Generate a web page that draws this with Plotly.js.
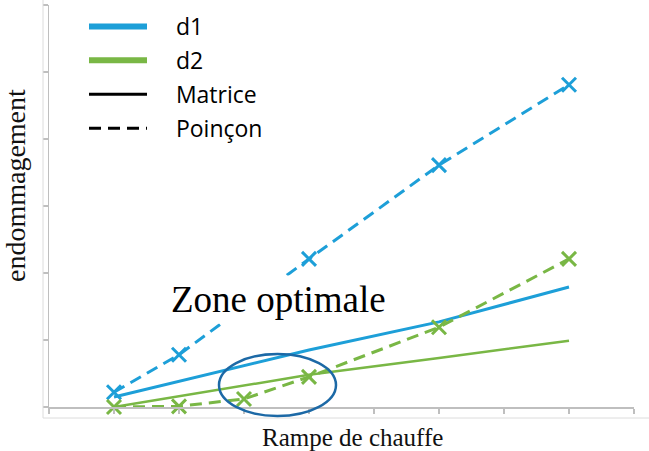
<!DOCTYPE html>
<html>
<head>
<meta charset="utf-8">
<script src="https://cdn.plot.ly/plotly-3.0.1.min.js"></script>
<style>
  html, body { margin: 0; padding: 0; background: #ffffff; }
  #chart { width: 649px; height: 451px; }
</style>
</head>
<body>
<div id="chart"></div>
<script>
// ---- data ----
const xMatrice = [1, 2, 3, 4, 6, 8];
const d1Matrice = [0.15, 0.38, 0.62, 0.85, 1.27, 1.79];
const d2Matrice = [0.0, 0.16, 0.32, 0.48, 0.73, 0.99];

const xD1Poincon = [1, 2, 4, 6, 8];
const d1Poincon = [0.22, 0.78, 2.21, 3.61, 4.81];

const xD2Poincon = [1, 2, 3, 4, 6, 8];
const d2Poincon = [0.0, 0.01, 0.12, 0.45, 1.19, 2.21];

const legendNames = ['d1', 'd2', 'Matrice', 'Poinçon'];
const seriesNames = ['d1 Matrice', 'd2 Matrice', 'd1 Poinçon', 'd2 Poinçon'];
const xTitle = 'Rampe de chauffe';
const yTitle = 'endommagement';
const zoneLabel = 'Zone optimale';

// ---- styles ----
const BLUE = '#1d9fd8';
const GREEN = '#79b745';
const ELLIPSE = '#1c69a6';
const AXIS = '#bfbfbf';
const DASH = '12px,7px';
const PAD = '\u00a0\u00a0\u00a0\u00a0';

const markerStyle = (c) => ({ symbol: 'x-thin-open', size: 14, line: { color: c, width: 3 } });

const traces = [
  { x: xMatrice, y: d1Matrice, name: seriesNames[0], mode: 'lines',
    line: { color: BLUE, width: 3 }, showlegend: false, cliponaxis: false },
  { x: xMatrice, y: d2Matrice, name: seriesNames[1], mode: 'lines',
    line: { color: GREEN, width: 2.5 }, showlegend: false, cliponaxis: false },
  { x: xD1Poincon, y: d1Poincon, name: seriesNames[2], mode: 'lines+markers',
    line: { color: BLUE, width: 3, dash: DASH }, marker: markerStyle(BLUE),
    showlegend: false, cliponaxis: false },
  { x: xD2Poincon, y: d2Poincon, name: seriesNames[3], mode: 'lines+markers',
    line: { color: GREEN, width: 3, dash: DASH }, marker: markerStyle(GREEN),
    showlegend: false, cliponaxis: false },
  // legend-only entries
  { x: [null], y: [null], name: PAD + legendNames[0], mode: 'lines', legendgroup: 'a',
    line: { color: BLUE, width: 6 } },
  { x: [null], y: [null], name: PAD + legendNames[1], mode: 'lines', legendgroup: 'b',
    line: { color: GREEN, width: 6 } },
  { x: [null], y: [null], name: PAD + legendNames[2], mode: 'lines', legendgroup: 'c',
    line: { color: '#000000', width: 3 } },
  { x: [null], y: [null], name: PAD + legendNames[3], mode: 'lines', legendgroup: 'd',
    line: { color: '#000000', width: 3, dash: DASH } }
];

// plot area in pixels: x 49..634, y 5..407
const L = 49, R = 15, T = 5, B = 44, W = 649, H = 451;
const pw = W - L - R, ph = H - T - B;
const px = (v) => (v - L) / pw;
const py = (v) => (H - B - v) / ph;

const layout = {
  width: W, height: H,
  margin: { l: L, r: R, t: T, b: B, pad: 0 },
  paper_bgcolor: '#ffffff', plot_bgcolor: '#ffffff',
  showlegend: true,
  legend: {
    x: px(84), y: py(5), xanchor: 'left', yanchor: 'top',
    bgcolor: 'rgba(0,0,0,0)', borderwidth: 0,
    font: { family: 'Open Sans, sans-serif', size: 23, color: '#000000' },
    traceorder: 'grouped', tracegroupgap: 1, itemwidth: 58
  },
  xaxis: {
    range: [0, 9], dtick: 1, tick0: 0, showticklabels: false,
    showgrid: false, zeroline: false, showline: true, linecolor: AXIS, linewidth: 1.5,
    ticks: 'outside', ticklen: 5, tickcolor: AXIS, tickwidth: 1.2, fixedrange: true,
    title: { text: '' }
  },
  yaxis: {
    range: [0, 6], dtick: 1, tick0: 0, showticklabels: false,
    showgrid: false, zeroline: false, showline: true, linecolor: AXIS, linewidth: 1.5,
    ticks: 'outside', ticklen: 5, tickcolor: AXIS, tickwidth: 1.2, fixedrange: true,
    title: { text: '' }
  },
  shapes: [
    // faint picture frame
    { type: 'line', xref: 'paper', yref: 'paper', x0: px(43), x1: px(43), y0: py(418), y1: py(0),
      line: { color: '#dcdcdc', width: 1 } },
    { type: 'line', xref: 'paper', yref: 'paper', x0: px(43), x1: px(649), y0: py(418), y1: py(418),
      line: { color: '#dcdcdc', width: 1 } },
    // ellipse around optimal zone
    { type: 'circle', xref: 'paper', yref: 'paper',
      x0: px(219), x1: px(336), y0: py(416), y1: py(354),
      line: { color: ELLIPSE, width: 2.5 }, fillcolor: 'rgba(0,0,0,0)' }
  ],
  annotations: [
    { text: zoneLabel, xref: 'paper', yref: 'paper', x: px(278), y: py(299),
      xanchor: 'center', yanchor: 'middle', showarrow: false,
      bgcolor: '#ffffff', borderpad: 3,
      font: { family: 'Liberation Serif, serif', size: 37, color: '#000000' } },
    { text: yTitle, xref: 'paper', yref: 'paper', x: px(15), y: py(186),
      xanchor: 'center', yanchor: 'middle', showarrow: false, textangle: -90,
      font: { family: 'Liberation Serif, serif', size: 28, color: '#111111' } },
    { text: xTitle, xref: 'paper', yref: 'paper', x: px(352), y: py(437),
      xanchor: 'center', yanchor: 'middle', showarrow: false,
      font: { family: 'Liberation Serif, serif', size: 25, color: '#111111' } }
  ]
};

Plotly.newPlot('chart', traces, layout, { displayModeBar: false, staticPlot: true });
</script>
</body>
</html>
